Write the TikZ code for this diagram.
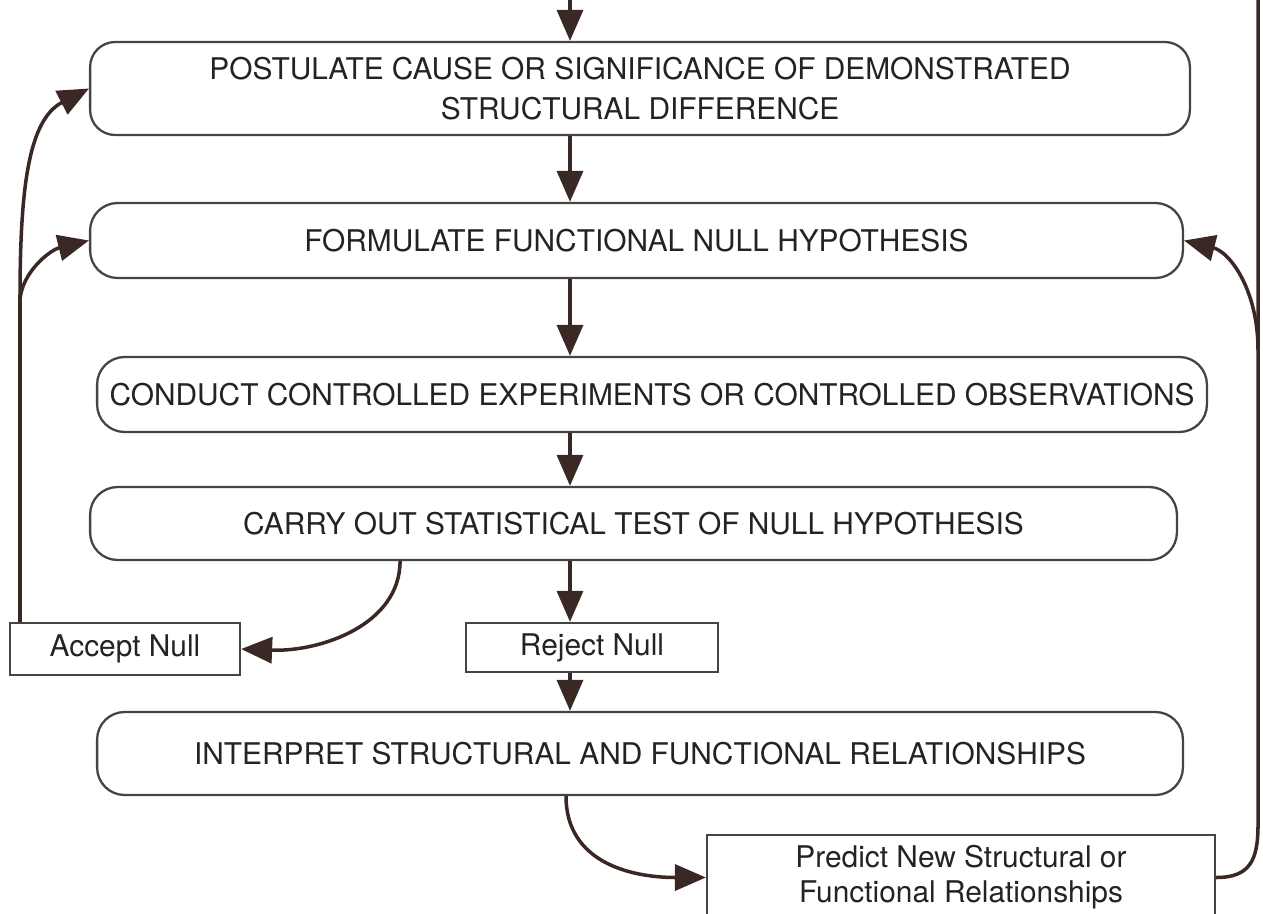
\documentclass[tikz,border=0pt]{standalone}
\usepackage{fontspec}
\setmainfont{TeX Gyre Heros}
\usetikzlibrary{arrows.meta}
\definecolor{inkbrown}{RGB}{58,40,36}
\definecolor{boxgrey}{RGB}{70,68,66}
\definecolor{textgrey}{RGB}{35,35,35}

\begin{document}
\begin{tikzpicture}[x=0.02cm, y=-0.02cm, >={Triangle[length=0.62cm,width=0.52cm]},
  every node/.style={font=\fontsize{17}{22.8}\selectfont, text=textgrey},
  stage/.style={draw=boxgrey, line width=1.3pt, rounded corners=0.55cm, align=center, inner sep=2pt},
  outcome/.style={draw=boxgrey, line width=1.3pt, rectangle, align=center, inner sep=2pt},
  rail/.style={line width=2pt, inkbrown},
  flow/.style={->, rail}]
  \useasboundingbox (0,0) rectangle (1263,913);

  % main sequence of steps
  \node [stage, minimum width=22cm, minimum height=1.86cm, rounded corners=0.5cm] (postulate) at (640,88.5) {POSTULATE CAUSE OR SIGNIFICANCE OF DEMONSTRATED\\STRUCTURAL DIFFERENCE};
  \node [stage, minimum width=21.86cm, minimum height=1.5cm] (formulate) at (636.5,240.5) {FORMULATE FUNCTIONAL NULL HYPOTHESIS};
  \node [stage, minimum width=22.2cm, minimum height=1.5cm] (conduct) at (652,394.5) {CONDUCT CONTROLLED EXPERIMENTS OR CONTROLLED OBSERVATIONS};
  \node [stage, minimum width=21.74cm, minimum height=1.46cm] (carry) at (633.5,523.5) {CARRY OUT STATISTICAL TEST OF NULL HYPOTHESIS};
  \node [outcome, minimum width=5.04cm, minimum height=0.98cm] (reject) at (592,647.5) {Reject Null};
  \node [outcome, minimum width=4.6cm, minimum height=1.04cm] (accept) at (125,649) {Accept Null};
  \node [stage, minimum width=21.72cm, minimum height=1.66cm] (interpret) at (640,753.5) {INTERPRET STRUCTURAL AND FUNCTIONAL RELATIONSHIPS};
  \node [outcome, minimum width=10.16cm, minimum height=1.7cm, font=\fontsize{17}{20}\selectfont] (predict) at (961,877.5) {Predict New Structural or\\Functional Relationships};

  \coordinate (spine) at (570,0);
  \coordinate (leftfork) at (20,300);
  \coordinate (railtop) at (1258,0);
  \coordinate (rightfork) at (1258,350);

  % straight flow down the middle
  \draw [flow] (spine) -- (spine |- postulate.north);
  \draw [flow] (postulate.south -| spine) -- (formulate.north -| spine);
  \draw [flow] (formulate.south -| spine) -- (conduct.north -| spine);
  \draw [flow] (conduct.south -| spine) -- (carry.north -| spine);
  \draw [flow] (carry.south -| spine) -- (reject.north -| spine);
  \draw [flow] (reject.south -| spine) -- (interpret.north -| spine);

  % accept null loops back
  \draw [flow] ([xshift=-4.67cm]carry.south) .. controls (400,625) and (320,652) .. (accept.east);
  \draw [rail] (accept.north -| leftfork) -- (leftfork);
  \draw [flow] (leftfork) .. controls (22,272) and (50,250) .. (formulate.west);
  \draw [flow] (leftfork) .. controls (20,190) and (28,120) .. (postulate.west);

  % prediction loops back
  \draw [flow] ([xshift=-1.48cm]interpret.south) .. controls (566,862) and (630,877.5) .. (predict.west);
  \draw [rail] (predict.east) .. controls (1250,877.5) and (1258,860) .. (1258,825) -- (railtop);
  \draw [flow] (rightfork) .. controls (1258,290) and (1230,252) .. (formulate.east);
\end{tikzpicture}
\end{document}
